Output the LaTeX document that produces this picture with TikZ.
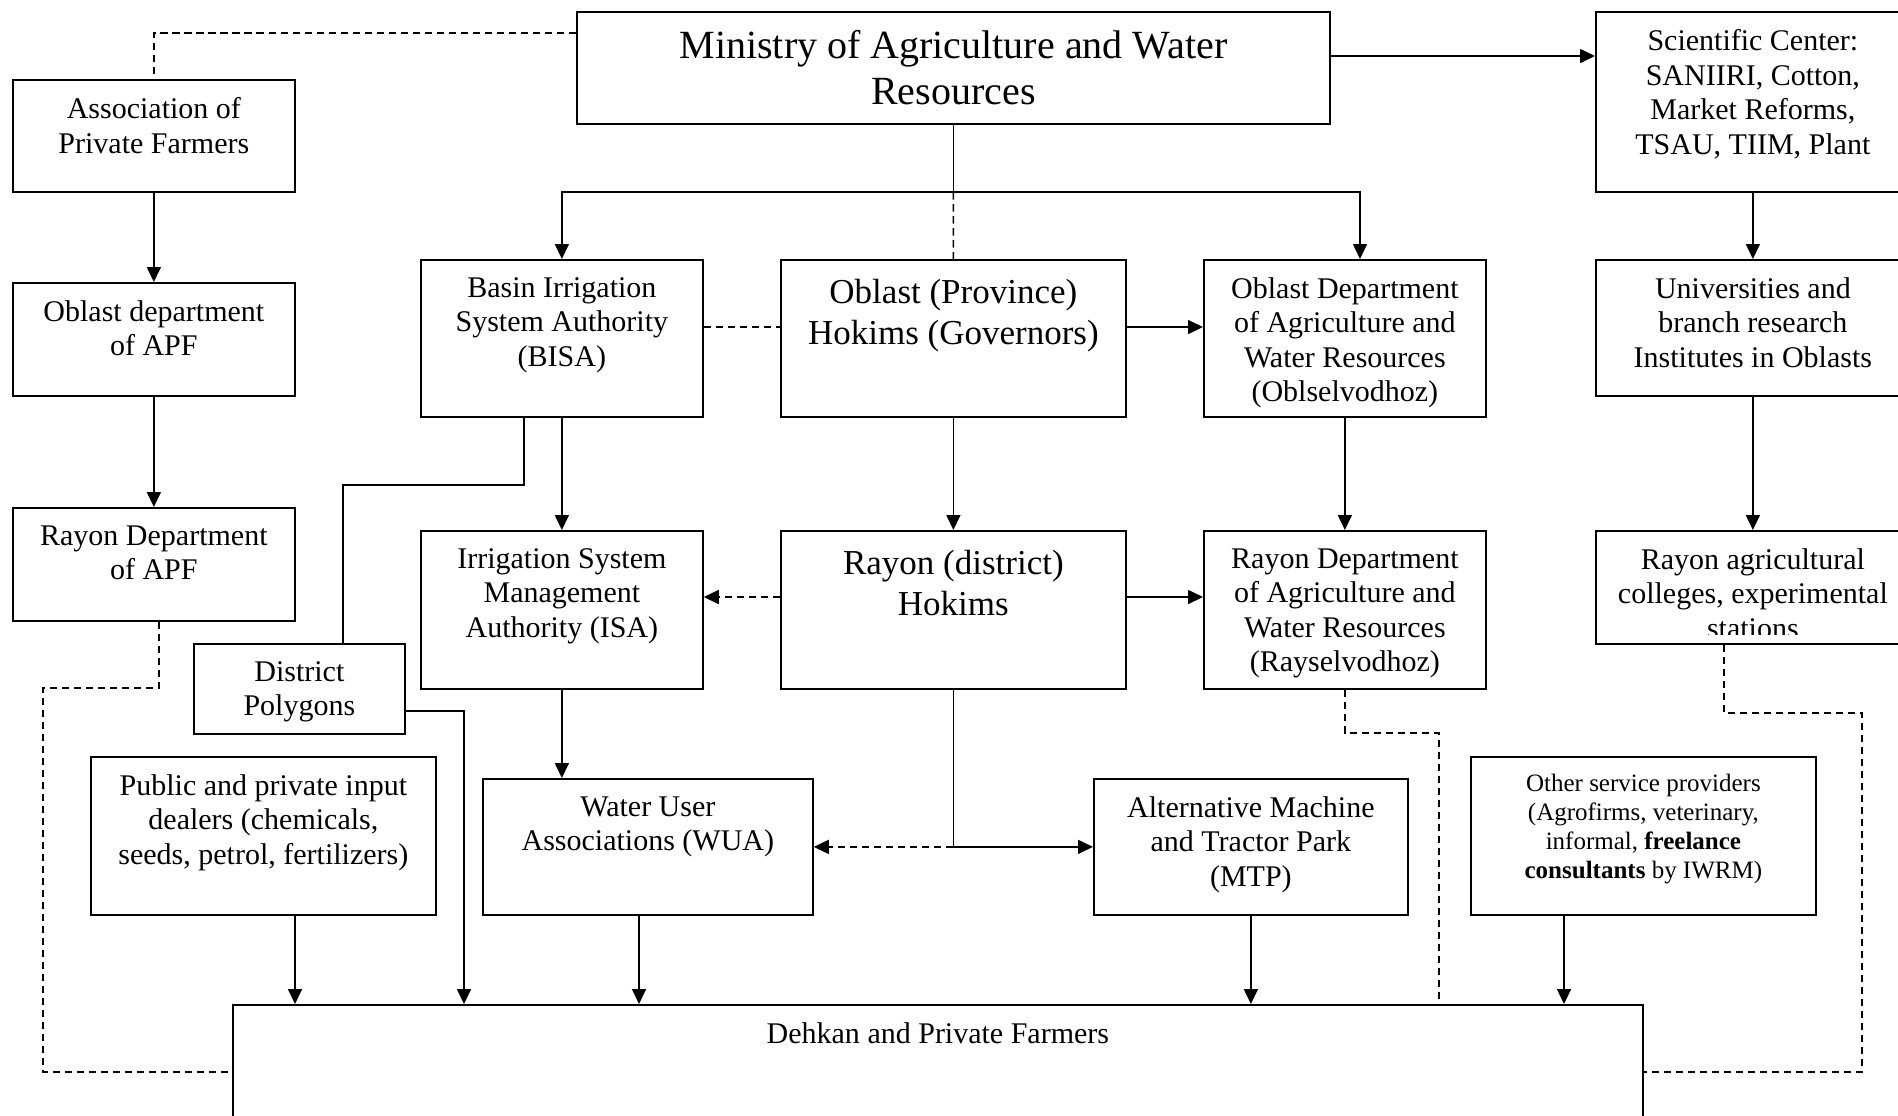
\documentclass[tikz,border=0pt]{standalone}
\usepackage{fontspec}
\setmainfont{Liberation Serif}
\usetikzlibrary{arrows.meta,positioning,calc}
\tikzset{
  box/.style={
    rectangle, draw=black, line width=0.7pt,
    anchor=north west, inner sep=0pt
  },
  txt/.style={inner sep=0pt, align=center, font=\fontsize{12}{13.8}\selectfont},
  bigtxt/.style={txt, font=\fontsize{14}{16.1}\selectfont},
  smalltxt/.style={txt, font=\fontsize{10}{11.5}\selectfont},
  link/.style={line width=0.65pt, draw=black},
  flow/.style={link, -{Triangle[length=6pt,width=5.6pt]}},
  dashlink/.style={link, dash pattern=on 3pt off 1.8pt},
  dashflow/.style={dashlink, -{Triangle[length=6pt,width=5.6pt]}}
}

\begin{document}
\begin{tikzpicture}[x=0.4pt, y=-0.4pt]
  \useasboundingbox (0,0) rectangle (1898,1115);
  \clip (0,0) rectangle (1898,1115);

  % ministry and scientific centre
  \node[box, minimum width=301.2pt, minimum height=44.8pt, align=center,
        font=\fontsize{16}{18.4}\selectfont] (min) at (576,11)
        {Ministry of Agriculture and Water\\Resources};
  \node[box, minimum width=125.6pt, minimum height=72pt]   (sci)   at (1595,11) {};
  \node[box, minimum width=125.6pt, minimum height=54.4pt] (univ)  at (1595,259) {};
  \node[box, minimum width=125.6pt, minimum height=45.2pt] (col)   at (1595,530) {};

  % association of private farmers
  \node[box, minimum width=112.8pt, minimum height=44.8pt] (apf)   at (12,79) {};
  \node[box, minimum width=112.8pt, minimum height=45.2pt] (odapf) at (12,282) {};
  \node[box, minimum width=112.8pt, minimum height=45.2pt] (rapf)  at (12,507) {};

  % oblast level
  \node[box, minimum width=112.8pt, minimum height=62.8pt] (bisa)  at (420,259) {};
  \node[box, minimum width=138pt,   minimum height=62.8pt] (oh)    at (780,259) {};
  \node[box, minimum width=112.8pt, minimum height=62.8pt] (odawr) at (1203,259) {};

  % rayon level
  \node[box, minimum width=112.8pt, minimum height=63.2pt] (isa)   at (420,530) {};
  \node[box, minimum width=138pt,   minimum height=63.2pt] (rh)    at (780,530) {};
  \node[box, minimum width=112.8pt, minimum height=63.2pt] (rdawr) at (1203,530) {};

  % service providers
  \node[box, minimum width=84.4pt,  minimum height=36pt]   (dp)    at (193,643) {};
  \node[box, minimum width=138pt,   minimum height=63.2pt] (deal)  at (90,756) {};
  \node[box, minimum width=132pt,   minimum height=54.4pt] (wua)   at (482,778) {};
  \node[box, minimum width=125.6pt, minimum height=54.4pt] (mtp)   at (1093,778) {};
  \node[box, minimum width=138pt,   minimum height=63.2pt] (oth)   at (1470,756) {};

  % farmers
  \node[box, minimum width=564pt, minimum height=80pt]     (dehkan) at (232,1004) {};

  % box texts
  \node[txt, below=7.2pt of sci.north]   (sciT)   {Scientific Center:\\SANIIRI, Cotton,\\Market Reforms,\\TSAU, TIIM, Plant};
  \node[txt, below=7.2pt of univ.north]  (univT)  {Universities and\\branch research\\Institutes in Oblasts};
  \node[txt, below=7.2pt of apf.north]   (apfT)   {Association of\\Private Farmers};
  \node[txt, below=7.2pt of odapf.north] (odapfT) {Oblast department\\of APF};
  \node[txt, below=7.2pt of rapf.north]  (rapfT)  {Rayon Department\\of APF};
  \node[txt, below=7.2pt of bisa.north]  (bisaT)  {Basin Irrigation\\System Authority\\(BISA)};
  \node[bigtxt, below=8pt of oh.north]   (ohT)    {Oblast (Province)\\Hokims (Governors)};
  \node[txt, below=7.2pt of odawr.north] (odawrT) {Oblast Department\\of Agriculture and\\Water Resources\\(Oblselvodhoz)};
  \node[txt, below=7.2pt of isa.north]   (isaT)   {Irrigation System\\Management\\Authority (ISA)};
  \node[bigtxt, below=8pt of rh.north]   (rhT)    {Rayon (district)\\Hokims};
  \node[txt, below=7.2pt of rdawr.north] (rdawrT) {Rayon Department\\of Agriculture and\\Water Resources\\(Rayselvodhoz)};
  \node[txt, below=7.2pt of dp.north]    (dpT)    {District\\Polygons};
  \node[txt, below=7.2pt of deal.north]  (dealT)  {Public and private input\\dealers (chemicals,\\seeds, petrol, fertilizers)};
  \node[txt, below=7.2pt of wua.north]   (wuaT)   {Water User\\Associations (WUA)};
  \node[txt, below=7.2pt of mtp.north]   (mtpT)   {Alternative Machine\\and Tractor Park\\(MTP)};
  \node[smalltxt, below=7.2pt of oth.north] (othT) {Other service providers\\(Agrofirms, veterinary,\\informal, \textbf{freelance}\\\textbf{consultants} by IWRM)};
  \node[txt, below=7.2pt of dehkan.north] (dehkanT) {Dehkan and Private Farmers};
  \begin{scope}
    \clip (1595,530) rectangle (1909,634);
    \node[txt, below=7.2pt of col.north] (colT) {Rayon agricultural\\colleges, experimental\\stations};
  \end{scope}

  % ministry links
  \draw[flow] (min.east |- 0,56) -- (sci.west |- 0,56);
  \draw[dashlink] (min.west |- 0,33) -| (apf.north);
  \draw[link] (min.south) -- (min.south |- 0,192) coordinate (split);
  \draw[flow] (split) -| (bisa.north);
  \draw[flow] (split) -| (odawr.north -| 1360,0);
  \draw[dashlink] (split) -- (oh.north);

  % vertical chains
  \draw[flow] (apf) -- (odapf);
  \draw[flow] (odapf) -- (rapf);
  \draw[flow] (sci) -- (univ);
  \draw[flow] (univ) -- (col);
  \draw[flow] (bisa) -- (isa);
  \draw[flow] (oh) -- (rh);
  \draw[flow] (odawr) -- (rdawr);
  \draw[flow] (isa.south) -- (isa.south |- wua.north);

  % oblast and rayon row links
  \draw[dashlink] (bisa.east |- 0,327) -- (oh.west |- 0,327);
  \draw[flow] (oh.east |- 0,327) -- (odawr.west |- 0,327);
  \draw[dashflow] (rh.west |- 0,597) -- (isa.east |- 0,597);
  \draw[flow] (rh.east |- 0,597) -- (rdawr.west |- 0,597);
  \draw[link] (bisa.south -| 524,0) |- (343,485) -- (dp.north -| 343,0);
  \draw[link] (rh.south) -- (rh.south |- wua.east) coordinate (fork);
  \draw[dashflow] (fork) -- (wua.east);
  \draw[flow] (fork) -- (mtp.west);

  % into the farmers
  \draw[flow] (dp.east |- 0,711) -| (dehkan.north -| 464,0);
  \draw[flow] (deal.south -| 295,0) -- (dehkan.north -| 295,0);
  \draw[flow] (wua.south -| 639,0) -- (dehkan.north -| 639,0);
  \draw[flow] (mtp.south) -- (mtp.south |- dehkan.north);
  \draw[flow] (oth.south -| 1564,0) -- (dehkan.north -| 1564,0);
  \draw[dashlink] (rapf.south -| 159,0) |- (43,688) |- (dehkan.west |- 0,1072);
  \draw[dashlink] (rdawr.south) |- (1439,733) -- (dehkan.north -| 1439,0);
  \draw[dashlink] (col.south -| 1724,0) |- (1862,713) |- (dehkan.east |- 0,1072);
\end{tikzpicture}
\end{document}
